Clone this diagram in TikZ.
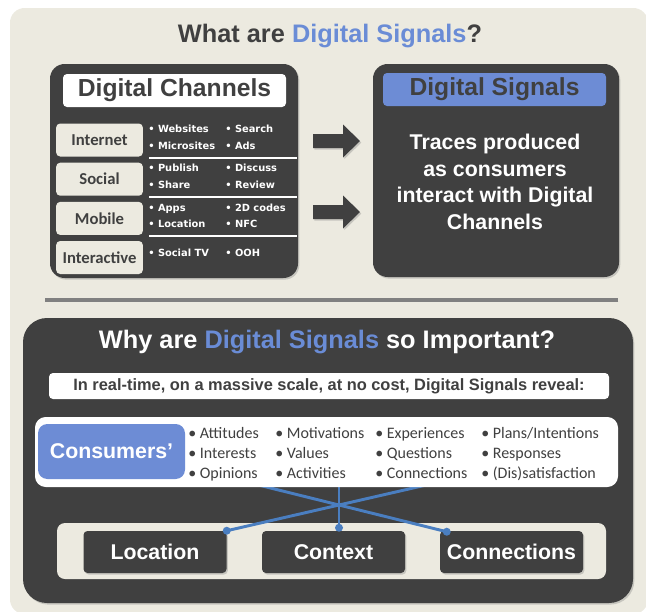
\documentclass[tikz,border=0pt]{standalone}
\usepackage{fontspec}
\setmainfont{Liberation Sans}
\newfontfamily\calfont{Carlito}
\newfontfamily\dvfont{DejaVu Sans}
\usetikzlibrary{calc,shadows}
\definecolor{bgbeige}{RGB}{236,234,224}
\definecolor{dkgray}{RGB}{64,64,64}
\definecolor{sigblue}{RGB}{106,140,214}
\definecolor{boxblue}{RGB}{109,140,213}
\definecolor{lineblue}{RGB}{74,126,192}
\definecolor{sepgray}{RGB}{128,128,128}

\begin{document}
\begin{tikzpicture}[x=0.75pt,y=0.75pt,yscale=-1,xscale=1,
  shade/.style={drop shadow={shadow xshift=1pt,shadow yshift=-1.2pt,opacity=0.35}},
  panel/.style={fill=dkgray,rounded corners=11pt,shade},
  headbox/.style={rounded corners=3pt,minimum width=167.25pt,minimum height=24.75pt,inner sep=0pt,text=dkgray,font=\bfseries\fontsize{18.5}{22}\selectfont},
  catbox/.style={fill=bgbeige,rounded corners=3pt,minimum width=65pt,minimum height=24.75pt,inner sep=0pt,text=dkgray,font=\calfont\bfseries\fontsize{12.5}{14}\selectfont},
  item/.style={anchor=west,inner sep=0pt,text height=5.5pt,text depth=1.5pt,text=white,font=\dvfont\bfseries\fontsize{7.4}{9}\selectfont},
  citem/.style={anchor=west,inner sep=0pt,text height=8.5pt,text depth=2.5pt,text=dkgray,font=\calfont\fontsize{12}{14}\selectfont},
  outbox/.style={fill=dkgray,rounded corners=3pt,minimum width=107.25pt,minimum height=31.5pt,inner sep=0pt,text=white,font=\bfseries\fontsize{16}{19}\selectfont,shade},
  sigline/.style={draw=lineblue,line width=2.2pt},
  sigdot/.style={fill=lineblue}
]
\useasboundingbox (0,0) rectangle (646,611);
\fill[bgbeige,rounded corners=11pt] (10,8) rectangle (648,614);

% top half
\node[text=dkgray,font=\bfseries\fontsize{19}{23}\selectfont] (what) at (330,36) {What are \textcolor{sigblue}{Digital Signals}?};

\fill[panel] (50,64) rectangle (298,278);
\node[headbox,fill=white] (chan) at (174.5,90.5) {Digital Channels};
\foreach \i/\lab/\a/\b/\c/\d [evaluate=\i as \yc using 140+39.2*\i] in {0/Internet/Websites/Microsites/Search/Ads, 1/Social/Publish/Share/Discuss/Review, 2/Mobile/Apps/Location/2D codes/NFC}
{
  \node[catbox] (cat\i) at (99.5,\yc) {\lab};
  \node[item] (it\i a) at (148,\yc-10) {• \a};
  \node[item] (it\i b) at (148,\yc+6.5) {• \b};
  \node[item] (it\i c) at (225,\yc-10) {• \c};
  \node[item] (it\i d) at (225,\yc+6.5) {• \d};
  \draw[white,line width=1.5pt] (149,\yc+17.8) -- (297,\yc+17.8);
}
\node[catbox] (cat3) at (99.5,257.5) {Interactive};
\node[item] (it3a) at (148,254) {• Social TV};
\node[item] (it3c) at (225,254) {• OOH};

% block arrows
\foreach \y in {141,212}
  \fill[dkgray,shade] (313,\y-7) -- (343,\y-7) -- (343,\y-16.5) -- (360,\y) -- (343,\y+16.5) -- (343,\y+7) -- (313,\y+7) -- cycle;

\fill[panel] (373,64) rectangle (619,277);
\node[headbox,fill=boxblue] (sig) at (494.5,89.5) {Digital Signals};
\node[align=center,text=white,font=\bfseries\fontsize{16}{20}\selectfont] (trace) at (495,182) {Traces produced\\as consumers\\interact with Digital\\Channels};

\draw[sepgray,line width=3pt,shade] (45,300) -- (618,300);

% bottom half
\fill[panel,rounded corners=18pt] (23,318) rectangle (633,603);
\node[text=white,font=\bfseries\fontsize{19}{23}\selectfont] (why) at (327,341.5) {Why are \textcolor{sigblue}{Digital Signals} so Important?};
\node[fill=white,rounded corners=3pt,minimum width=420pt,minimum height=19.5pt,inner sep=0pt,text=dkgray,font=\bfseries\fontsize{12.3}{14}\selectfont] (reveal) at (329,386) {In real-time, on a massive scale, at no cost, Digital Signals reveal:};

\fill[bgbeige,rounded corners=6pt] (57,523) rectangle (606,579);
\node[outbox] (loc) at (155,552) {Location};
\node[outbox] (ctx) at (333.5,552) {Context};
\node[outbox] (conn) at (511.5,552) {Connections};

\coordinate (xing) at (339,505);
\coordinate (dotL) at (loc.north east);
\coordinate (dotC) at ($(ctx.north)+(5.5,-3)$);
\coordinate (dotR) at ($(conn.north west)+(7,1)$);
\foreach \p in {dotL,dotC,dotR}
{
  \draw[sigline] (\p) -- ($(\p)!1.8!(xing)$);
  \fill[sigdot] (\p) circle[radius=3pt];
}

\node[fill=white,rounded corners=8pt,minimum width=437.25pt,minimum height=52.5pt,inner sep=0pt] (who) at (326.5,452) {};
\node[fill=boxblue,rounded corners=7pt,minimum width=110.25pt,minimum height=41.25pt,inner sep=0pt,text=white,font=\bfseries\fontsize{16}{19}\selectfont] (cons) at (111.5,451.5) {Consumers’};
\foreach \x/\a/\b/\c in {188/Attitudes/Interests/Opinions, 275/Motivations/Values/Activities, 375/Experiences/Questions/Connections, 481/{Plans/Intentions}/Responses/{(Dis)satisfaction}}
{
  \node[citem] (c\x a) at (\x,434.5) {• \a};
  \node[citem] (c\x b) at (\x,454.5) {• \b};
  \node[citem] (c\x c) at (\x,474.5) {• \c};
}
\end{tikzpicture}
\end{document}
